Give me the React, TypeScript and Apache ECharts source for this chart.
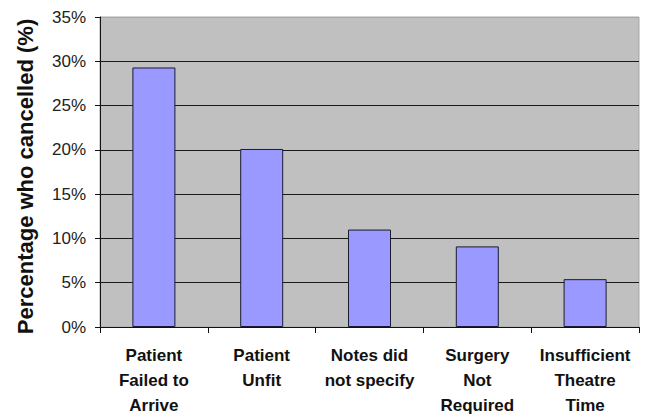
import React, { useEffect, useRef } from "react";
import * as echarts from "echarts";

const categories: string[] = [
  "Patient\nFailed to\nArrive",
  "Patient\nUnfit",
  "Notes did\nnot specify",
  "Surgery\nNot\nRequired",
  "Insufficient\nTheatre\nTime",
];
const cancelledPct: number[] = [29.3, 20.1, 11.0, 9.1, 5.4];
const yAxisTitle = "Percentage who cancelled (%)";
const yMin = 0;
const yMax = 35;
const yStep = 5;

const FONT = "'Liberation Sans', Arial, Helvetica, sans-serif";

export default function App() {
  const ref = useRef<HTMLDivElement>(null);

  useEffect(() => {
    if (!ref.current) return;
    const chart = echarts.init(ref.current, undefined, { renderer: "svg" });
    const splitColors = ["#1a1a1a", "#1a1a1a", "#1a1a1a", "#1a1a1a", "#1a1a1a", "#1a1a1a", "#1a1a1a", "#a8a8a8"];
    chart.setOption({
      animation: false,
      backgroundColor: "#ffffff",
      textStyle: { fontFamily: FONT },
      grid: {
        left: 100,
        right: 12,
        top: 17,
        bottom: 87,
        show: true,
        backgroundColor: "#c0c0c0",
        borderColor: "#a8a8a8",
        borderWidth: 1,
      },
      xAxis: {
        type: "category",
        data: categories,
        axisLine: { show: true, lineStyle: { color: "#111", width: 1 } },
        axisTick: { show: true, length: 6, alignWithLabel: false, lineStyle: { color: "#111" } },
        axisLabel: {
          interval: 0,
          margin: 16,
          color: "#111",
          fontFamily: FONT,
          fontWeight: "bold",
          fontSize: 17,
          lineHeight: 25,
        },
        splitLine: { show: false },
      },
      yAxis: {
        type: "value",
        min: yMin,
        max: yMax,
        interval: yStep,
        name: yAxisTitle,
        nameLocation: "middle",
        nameRotate: 90,
        nameGap: 64,
        nameTextStyle: {
          fontFamily: FONT,
          fontWeight: "bold",
          fontSize: 22,
          color: "#111",
          padding: [0, 9, 0, 0],
        },
        axisLine: { show: true, lineStyle: { color: "#111", width: 1 } },
        axisTick: { show: true, length: 5, lineStyle: { color: "#111" } },
        axisLabel: {
          formatter: "{value}%",
          margin: 14,
          color: "#222",
          fontFamily: FONT,
          fontSize: 17,
        },
        splitLine: { show: true, lineStyle: { color: splitColors, width: 1.2 } },
      },
      series: [
        {
          type: "bar",
          data: cancelledPct,
          barWidth: 43,
          itemStyle: { color: "#9999ff", borderColor: "#1a1a30", borderWidth: 1 },
        },
      ],
    });
    return () => chart.dispose();
  }, []);

  return (
    <div
      ref={ref}
      style={{ position: "fixed", left: 0, top: 0, width: 651, height: 418 }}
    />
  );
}
